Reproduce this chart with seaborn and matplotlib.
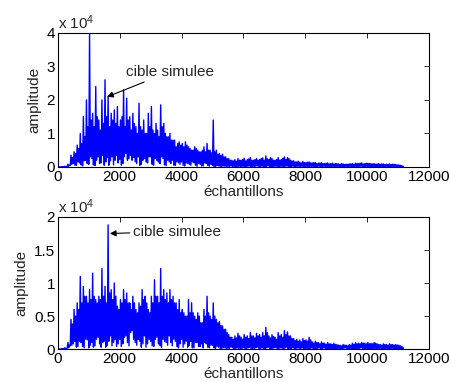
import numpy as np
import pandas as pd
import matplotlib
matplotlib.use("Agg")
import matplotlib.pyplot as plt
import seaborn as sns

# ---------------- data (amplitude in units of 1e4) ----------------
# each block of 100 samples holds four readings:
# trough (k*100), peak (+25), low (+50), mid (+75)
step = 100
x_ticks = [0, 2000, 4000, 6000, 8000, 10000, 12000]
top_yticks = [0, 1, 2, 3, 4]
top_yticklabels = ["0", "1", "2", "3", "4"]
bot_yticks = [0, 0.5, 1, 1.5, 2]
bot_yticklabels = ["0", "0.5", "1", "1.5", "2"]

top_peaks = [
    0.01, 0.01, 0.02, 0.08, 0.35, 0.45, 0.65, 1.0, 1.5, 2.0,
    4.0, 1.6, 2.4, 1.4, 2.0, 2.6, 2.1, 1.6, 1.7, 1.8,
    1.4, 2.3, 2.05, 1.5, 1.6, 1.2, 1.9, 1.1, 1.0, 1.6,
    1.8, 1.0, 1.1, 1.85, 1.3, 0.9, 1.0, 0.8, 0.6, 0.75,
    0.7, 0.75, 0.6, 0.5, 0.6, 0.5, 0.45, 0.6, 0.7, 0.5,
    1.4, 0.5, 0.4, 0.38, 0.3, 0.25, 0.2, 0.22, 0.25, 0.2,
    0.26, 0.22, 0.28, 0.2, 0.25, 0.22, 0.27, 0.33, 0.22, 0.25,
    0.2, 0.28, 0.22, 0.3, 0.28, 0.2, 0.18, 0.15, 0.14, 0.16,
    0.13, 0.15, 0.12, 0.13, 0.11, 0.12, 0.1, 0.12, 0.1, 0.09,
    0.1, 0.08, 0.09, 0.08, 0.09, 0.1, 0.11, 0.1, 0.12, 0.1,
    0.11, 0.1, 0.1, 0.09, 0.08, 0.09, 0.08, 0.09, 0.08, 0.07,
    0.06, 0.04,
]
top_mids = [
    0.0, 0.01, 0.01, 0.05, 0.28, 0.4, 0.55, 0.7, 0.9, 1.2,
    1.4, 1.2, 1.5, 1.1, 1.3, 1.5, 1.2, 1.4, 1.3, 1.2,
    1.5, 1.2, 1.4, 1.1, 1.3, 1.0, 1.2, 1.4, 1.0, 1.2,
    1.1, 1.3, 0.9, 1.2, 1.0, 0.9, 0.8, 0.8, 0.7, 0.65,
    0.6, 0.65, 0.55, 0.5, 0.55, 0.45, 0.5, 0.45, 0.5, 0.42,
    0.45, 0.38, 0.34, 0.3, 0.25, 0.2, 0.18, 0.17, 0.2, 0.22,
    0.18, 0.24, 0.2, 0.22, 0.2, 0.25, 0.2, 0.24, 0.28, 0.2,
    0.22, 0.2, 0.26, 0.22, 0.25, 0.18, 0.15, 0.17, 0.12, 0.13,
    0.14, 0.12, 0.13, 0.1, 0.12, 0.1, 0.11, 0.09, 0.11, 0.1,
    0.09, 0.1, 0.07, 0.08, 0.09, 0.08, 0.1, 0.11, 0.09, 0.11,
    0.1, 0.09, 0.08, 0.1, 0.09, 0.07, 0.08, 0.07, 0.08, 0.06,
    0.05, 0.02,
]
top_troughs = [
    0.0, 0.0, 0.005, 0.01, 0.04, 0.1, 0.05, 0.12, 0.03, 0.2,
    0.08, 0.25, 0.04, 0.3, 0.12, 0.05, 0.28, 0.18, 0.06, 0.35,
    0.22, 0.1, 0.4, 0.25, 0.2, 0.15, 0.3, 0.08, 0.25, 0.12,
    0.3, 0.05, 0.2, 0.1, 0.25, 0.04, 0.15, 0.2, 0.05, 0.12,
    0.15, 0.03, 0.1, 0.05, 0.12, 0.02, 0.08, 0.03, 0.1, 0.02,
    0.05, 0.01, 0.03, 0.0, 0.02, 0.01, 0.03, 0.0, 0.02, 0.01,
    0.02, 0.0, 0.03, 0.01, 0.02, 0.0, 0.02, 0.01, 0.03, 0.0,
    0.02, 0.01, 0.02, 0.0, 0.03, 0.01, 0.02, 0.0, 0.01, 0.02,
    0.0, 0.01, 0.02, 0.0, 0.01, 0.0, 0.02, 0.01, 0.0, 0.01,
    0.0, 0.01, 0.0, 0.02, 0.0, 0.01, 0.0, 0.01, 0.02, 0.0,
    0.01, 0.0, 0.01, 0.0, 0.01, 0.0, 0.01, 0.0, 0.01, 0.0,
    0.01, 0.0,
]
top_lows = [
    0.0, 0.0, 0.01, 0.02, 0.08, 0.05, 0.15, 0.06, 0.18, 0.1,
    0.3, 0.06, 0.2, 0.1, 0.35, 0.15, 0.05, 0.3, 0.2, 0.12,
    0.05, 0.3, 0.2, 0.35, 0.28, 0.1, 0.05, 0.2, 0.15, 0.3,
    0.08, 0.25, 0.15, 0.3, 0.06, 0.2, 0.1, 0.05, 0.15, 0.08,
    0.05, 0.12, 0.08, 0.15, 0.05, 0.1, 0.03, 0.12, 0.05, 0.08,
    0.02, 0.04, 0.01, 0.03, 0.0, 0.02, 0.01, 0.0, 0.02, 0.0,
    0.01, 0.02, 0.0, 0.01, 0.03, 0.0, 0.01, 0.02, 0.0, 0.01,
    0.02, 0.0, 0.01, 0.02, 0.0, 0.01, 0.0, 0.02, 0.01, 0.0,
    0.01, 0.0, 0.01, 0.0, 0.02, 0.0, 0.01, 0.0, 0.01, 0.0,
    0.01, 0.0, 0.01, 0.0, 0.01, 0.0, 0.01, 0.0, 0.01, 0.0,
    0.01, 0.0, 0.01, 0.0, 0.01, 0.0, 0.01, 0.0, 0.01, 0.0,
    0.0, 0.0,
]

bot_peaks = [
    0.01, 0.01, 0.02, 0.1, 0.45, 0.6, 0.7, 1.1, 0.95, 0.8,
    0.9, 1.15, 0.75, 0.8, 1.22, 0.95, 1.88, 0.9, 1.0, 0.65,
    0.75, 0.9, 0.85, 0.7, 0.8, 0.6, 0.7, 0.9, 0.8, 0.6,
    0.8, 1.05, 0.8, 1.22, 0.9, 0.85, 0.9, 0.8, 0.7, 0.75,
    0.6, 0.5, 0.75, 0.7, 0.5, 0.55, 0.4, 0.6, 0.8, 0.5,
    0.7, 0.45, 0.42, 0.35, 0.3, 0.22, 0.18, 0.2, 0.24, 0.18,
    0.22, 0.2, 0.25, 0.2, 0.24, 0.22, 0.25, 0.33, 0.2, 0.22,
    0.18, 0.25, 0.22, 0.28, 0.26, 0.2, 0.16, 0.15, 0.14, 0.16,
    0.14, 0.18, 0.11, 0.12, 0.1, 0.11, 0.09, 0.1, 0.08, 0.09,
    0.07, 0.06, 0.07, 0.06, 0.07, 0.09, 0.1, 0.09, 0.1, 0.09,
    0.1, 0.09, 0.1, 0.08, 0.07, 0.08, 0.07, 0.08, 0.07, 0.07,
    0.06, 0.04,
]
bot_mids = [
    0.0, 0.01, 0.01, 0.06, 0.38, 0.5, 0.6, 0.7, 0.8, 0.7,
    0.75, 0.8, 0.7, 0.75, 0.8, 0.7, 0.85, 0.75, 0.8, 0.6,
    0.7, 0.75, 0.7, 0.6, 0.7, 0.55, 0.65, 0.75, 0.7, 0.55,
    0.7, 0.8, 0.7, 0.8, 0.75, 0.7, 0.75, 0.7, 0.6, 0.55,
    0.55, 0.5, 0.55, 0.55, 0.45, 0.5, 0.4, 0.5, 0.55, 0.45,
    0.5, 0.4, 0.36, 0.3, 0.25, 0.18, 0.15, 0.17, 0.2, 0.15,
    0.18, 0.16, 0.2, 0.17, 0.2, 0.18, 0.2, 0.25, 0.17, 0.19,
    0.15, 0.2, 0.18, 0.22, 0.2, 0.16, 0.13, 0.12, 0.11, 0.13,
    0.12, 0.14, 0.09, 0.1, 0.08, 0.09, 0.07, 0.08, 0.07, 0.07,
    0.06, 0.05, 0.06, 0.05, 0.06, 0.07, 0.08, 0.08, 0.09, 0.08,
    0.08, 0.08, 0.09, 0.07, 0.06, 0.07, 0.06, 0.07, 0.06, 0.06,
    0.05, 0.02,
]
bot_troughs = [
    0.0, 0.0, 0.005, 0.01, 0.05, 0.08, 0.03, 0.12, 0.04, 0.15,
    0.02, 0.1, 0.05, 0.18, 0.03, 0.12, 0.06, 0.2, 0.1, 0.04,
    0.15, 0.08, 0.2, 0.05, 0.28, 0.1, 0.15, 0.03, 0.2, 0.08,
    0.12, 0.04, 0.18, 0.06, 0.15, 0.1, 0.2, 0.05, 0.12, 0.02,
    0.15, 0.08, 0.03, 0.12, 0.02, 0.1, 0.04, 0.02, 0.08, 0.02,
    0.06, 0.01, 0.03, 0.0, 0.02, 0.01, 0.03, 0.0, 0.02, 0.01,
    0.02, 0.0, 0.03, 0.01, 0.02, 0.0, 0.02, 0.01, 0.03, 0.0,
    0.02, 0.01, 0.02, 0.0, 0.03, 0.01, 0.02, 0.0, 0.01, 0.02,
    0.0, 0.01, 0.02, 0.0, 0.01, 0.0, 0.02, 0.01, 0.0, 0.01,
    0.0, 0.01, 0.0, 0.02, 0.0, 0.01, 0.0, 0.01, 0.02, 0.0,
    0.01, 0.0, 0.01, 0.0, 0.01, 0.0, 0.01, 0.0, 0.01, 0.0,
    0.01, 0.0,
]
bot_lows = [
    0.0, 0.0, 0.01, 0.02, 0.06, 0.12, 0.04, 0.1, 0.02, 0.14,
    0.06, 0.03, 0.15, 0.08, 0.1, 0.03, 0.12, 0.05, 0.15, 0.08,
    0.04, 0.18, 0.1, 0.25, 0.15, 0.06, 0.12, 0.08, 0.03, 0.15,
    0.05, 0.15, 0.08, 0.03, 0.12, 0.06, 0.1, 0.15, 0.04, 0.08,
    0.03, 0.12, 0.06, 0.02, 0.1, 0.04, 0.08, 0.1, 0.03, 0.06,
    0.02, 0.04, 0.01, 0.02, 0.0, 0.01, 0.02, 0.0, 0.01, 0.0,
    0.01, 0.02, 0.0, 0.01, 0.03, 0.0, 0.01, 0.02, 0.0, 0.01,
    0.02, 0.0, 0.01, 0.02, 0.0, 0.01, 0.0, 0.02, 0.01, 0.0,
    0.01, 0.0, 0.01, 0.0, 0.02, 0.0, 0.01, 0.0, 0.01, 0.0,
    0.01, 0.0, 0.01, 0.0, 0.01, 0.0, 0.01, 0.0, 0.01, 0.0,
    0.01, 0.0, 0.01, 0.0, 0.01, 0.0, 0.01, 0.0, 0.01, 0.0,
    0.0, 0.0,
]


def to_frame(troughs, peaks, lows, mids):
    n = len(peaks)
    base = np.arange(n) * step
    xs = np.empty(4 * n)
    ys = np.empty(4 * n)
    for j, arr in enumerate([troughs, peaks, lows, mids]):
        xs[j::4] = base + j * step / 4
        ys[j::4] = arr
    return pd.DataFrame({"sample": xs, "amplitude": ys})


# ---------------- styling ----------------
sns.set_theme(style="white")
plt.rcParams["font.family"] = ["Liberation Sans", "DejaVu Sans"]
plt.rcParams["mathtext.fontset"] = "custom"
plt.rcParams["mathtext.rm"] = "Liberation Sans"
plt.rcParams["mathtext.it"] = "Liberation Sans"
FS = 11

fig = plt.figure(figsize=(4.52, 3.82), dpi=100)
ax1 = fig.add_axes([0.128, 0.563, 0.821, 0.351])
ax2 = fig.add_axes([0.128, 0.086, 0.821, 0.346])

panels = [
    (ax1, (top_troughs, top_peaks, top_lows, top_mids), 4, top_yticks, top_yticklabels),
    (ax2, (bot_troughs, bot_peaks, bot_lows, bot_mids), 2, bot_yticks, bot_yticklabels),
]

for ax, arrays, ymax, yt, ytl in panels:
    df = to_frame(*arrays)
    sns.lineplot(data=df, x="sample", y="amplitude", ax=ax, color="#0000ff",
                 linewidth=1.0, sort=False, estimator=None)
    ax.set_xlim(0, 12000)
    ax.set_ylim(0, ymax)
    ax.set_xticks(x_ticks)
    ax.set_xticklabels([str(v) for v in x_ticks], fontsize=FS)
    ax.set_yticks(yt)
    ax.set_yticklabels(ytl, fontsize=FS)
    ax.tick_params(direction="in", top=True, right=True, length=3.5,
                   width=0.6, colors="black", pad=2)
    for s in ax.spines.values():
        s.set_visible(True)
        s.set_color("black")
        s.set_linewidth(0.8)
    ax.set_xlabel("échantillons", fontsize=FS, labelpad=1)
    ax.set_ylabel("amplitude", fontsize=FS, labelpad=4)
    ax.text(0.0, 1.005, r"x 10$^{4}$", transform=ax.transAxes,
            ha="left", va="bottom", fontsize=FS)

ax1.annotate("cible simulee", xy=(1590, 2.09), xytext=(2200, 2.84),
             fontsize=FS, va="center", ha="left",
             arrowprops=dict(arrowstyle="-|>", color="black", lw=0.8,
                             mutation_scale=9, shrinkA=0, shrinkB=0))
ax2.annotate("cible simulee", xy=(1680, 1.75), xytext=(2430, 1.78),
             fontsize=FS, va="center", ha="left",
             arrowprops=dict(arrowstyle="-|>", color="black", lw=0.8,
                             mutation_scale=9, shrinkA=0, shrinkB=0))

fig.savefig("out.png", dpi=100)
